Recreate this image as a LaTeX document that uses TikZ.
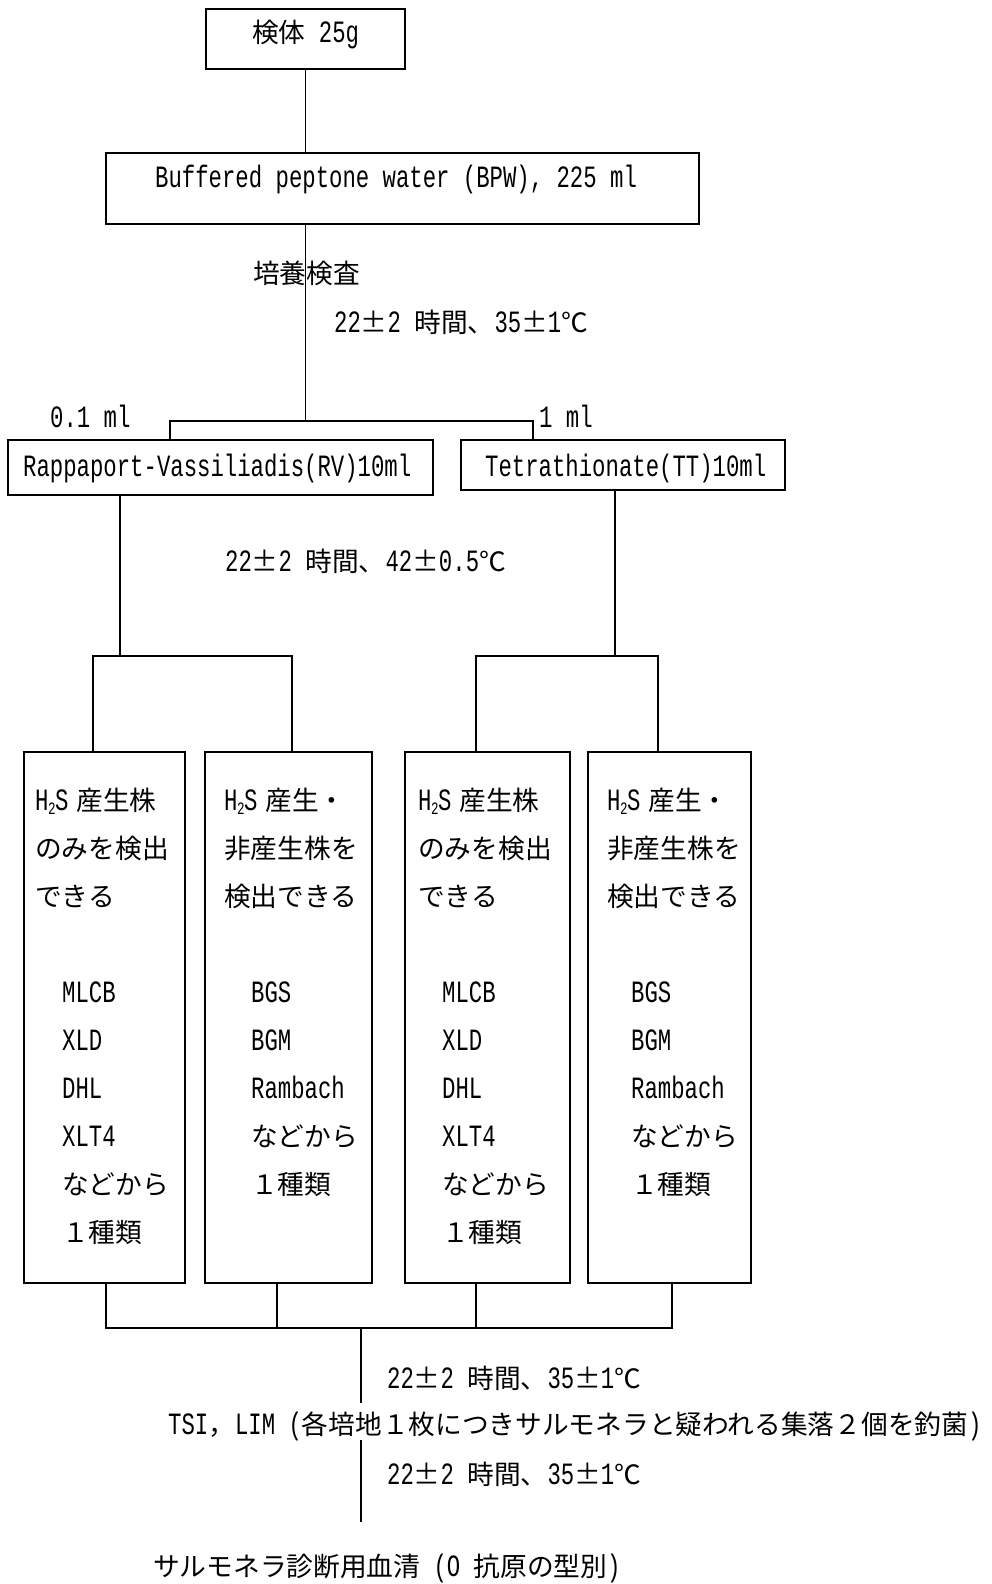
\documentclass[tikz,border=0pt]{standalone}
\usepackage{fontspec}
\setmainfont{Liberation Mono}[FakeStretch=0.72,Scale=1.16]
\newfontfamily\jp{Noto Sans CJK JP}
\newcommand\fpm{\makebox[26.7pt][c]{\jp ±}}
\newcommand\hts{H\kern-0.5pt\raisebox{-4pt}{\fontsize{15}{15}\selectfont 2}\kern-0.5pt S\kern8pt}
\begin{document}
\begin{tikzpicture}[x=1pt,y=-1pt,
  box/.style={draw,line width=1.7pt,inner sep=0pt},
  txt/.style={anchor=base west,inner sep=0pt,font=\fontsize{26.7}{30}\selectfont},
  conn/.style={line width=1.5pt}]
\fill[white] (0,0) rectangle (992,1584);
\useasboundingbox (0,0) rectangle (992,1584);

% boxes
\node[box,minimum width=199pt,minimum height=60pt] (b1) at (305.5,39) {};
\node[box,minimum width=593pt,minimum height=71pt] (bpw) at (402.5,188.5) {};
\node[box,minimum width=425pt,minimum height=55pt] (rv) at (220.5,467.5) {};
\node[box,minimum width=324pt,minimum height=50pt] (tt) at (623,465) {};
\node[box,minimum width=161pt,minimum height=531pt] (A) at (104.5,1017.5) {};
\node[box,minimum width=167pt,minimum height=531pt] (B) at (288.5,1017.5) {};
\node[box,minimum width=165pt,minimum height=531pt] (C) at (487.5,1017.5) {};
\node[box,minimum width=163pt,minimum height=531pt] (D) at (669.5,1017.5) {};

% connectors
\coordinate (j1) at (305.5,421);
\coordinate (jl) at (170,421);
\coordinate (jr) at (533,421);
\draw[conn] (b1.south) -- (bpw.north -| b1.south);
\draw[conn] (bpw.south -| j1) -- (j1);
\draw[conn] (rv.north -| jl) -- (jl) -- (jr) -- (tt.north -| jr);

\coordinate (k1) at (120,656);
\coordinate (k1a) at (93,656);
\coordinate (k1b) at (292,656);
\draw[conn] (rv.south -| k1) -- (k1);
\draw[conn] (A.north -| k1a) -- (k1a) -- (k1b) -- (B.north -| k1b);
\coordinate (k2) at (615,656);
\coordinate (k2a) at (476,656);
\coordinate (k2b) at (658,656);
\draw[conn] (tt.south -| k2) -- (k2);
\draw[conn] (C.north -| k2a) -- (k2a) -- (k2b) -- (D.north -| k2b);

\coordinate (m1) at (106,1328);
\coordinate (m2) at (277,1328);
\coordinate (m3) at (476,1328);
\coordinate (m4) at (672,1328);
\coordinate (mc) at (361,1328);
\coordinate (me) at (361,1403);
\draw[conn] (A.south -| m1) -- (m1) -- (m4) -- (D.south -| m4);
\draw[conn] (B.south -| m2) -- (m2);
\draw[conn] (C.south -| m3) -- (m3);
\draw[conn] (mc) -- (me);
\coordinate (n1) at (361,1440);
\coordinate (n2) at (361,1522);
\draw[conn] (n1) -- (n2);

% texts
\node[txt] (t1) at (252,43) {{\jp 検体} 25g};
\node[txt] (t2) at (155,187) {Buffered peptone water (BPW), 225 ml};
\node[txt] (t3) at (253,283) {\jp 培養検査};
\node[txt] (t4) at (334,332) {22\fpm 2 {\jp 時間、}35\fpm 1{\jp ℃}};
\node[txt] (t5) at (50,427) {0.1 ml};
\node[txt] (t6) at (539,427) {1 ml};
\node[txt] (t7) at (23,476) {Rappaport-Vassiliadis(RV)10ml};
\node[txt] (t8) at (485,476) {Tetrathionate(TT)10ml};
\node[txt] (t9) at (225,571) {22\fpm 2 {\jp 時間、}42\fpm 0.5{\jp ℃}};

% tall box texts
\foreach \nm/\hx/\lx in {A/35/62, C/418/442}{
  \foreach \t [count=\i] in {{\hts{\jp 産生株}},{\jp のみを検出},{\jp できる}}
    \node[txt] (\nm h\i) at (\hx,{810+48.1*(\i-1)}) {\t};
  \foreach \t [count=\i] in {MLCB,XLD,DHL,XLT4,{\jp などから},{\jp １種類}}
    \node[txt] (\nm l\i) at (\lx,{1002.4+48.1*(\i-1)}) {\t};
}
\foreach \nm/\hx/\lx in {B/224/251, D/607/631}{
  \foreach \t [count=\i] in {{\hts{\jp 産生・}},{\jp 非産生株を},{\jp 検出できる}}
    \node[txt] (\nm h\i) at (\hx,{810+48.1*(\i-1)}) {\t};
  \foreach \t [count=\i] in {BGS,BGM,Rambach,{\jp などから},{\jp １種類}}
    \node[txt] (\nm l\i) at (\lx,{1002.4+48.1*(\i-1)}) {\t};
}

\node[txt] (t10) at (387,1388) {22\fpm 2 {\jp 時間、}35\fpm 1{\jp ℃}};
\node[txt] (t11) at (168,1434) {TSI{\jp ，}LIM ({\jp 各培地１枚につきサルモネラと疑われる集落２個を釣菌})};
\node[txt] (t12) at (387,1484) {22\fpm 2 {\jp 時間、}35\fpm 1{\jp ℃}};
\node[txt] (t13) at (153,1576) {{\jp サルモネラ診断用血清} (O {\jp 抗原の型別})};
\end{tikzpicture}
\end{document}
